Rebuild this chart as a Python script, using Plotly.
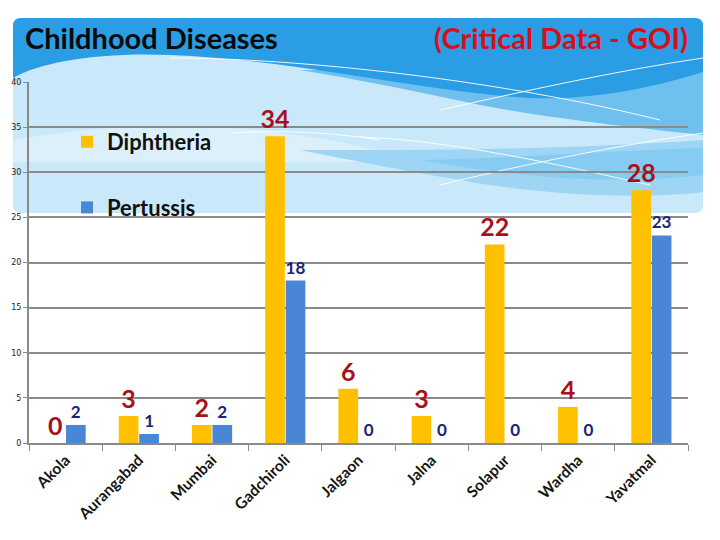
import plotly.graph_objects as go

categories = ["Akola", "Aurangabad", "Mumbai", "Gadchiroli", "Jalgaon",
              "Jalna", "Solapur", "Wardha", "Yavatmal"]
diphtheria = [0, 3, 2, 34, 6, 3, 22, 4, 28]
pertussis = [2, 1, 2, 18, 0, 0, 0, 0, 23]
y_ticks = [0, 5, 10, 15, 20, 25, 30, 35, 40]

# page body margin offsets the figure by 8px; lay out in screen pixels
OFF = 8
SW, SH = 720, 540
L, R, T, B = 29, 688, 82, 443


def px(x):
    return (x - L) / (R - L)


def py(y):
    return (B - y) / (B - T)


def path(points, close=True):
    s = ""
    for cmd, coords in points:
        s += cmd + " " + " ".join(
            f"{px(coords[j]):.4f},{py(coords[j+1]):.4f}" for j in range(0, len(coords), 2)) + " "
    if close:
        s += "Z"
    return s


fig = go.Figure()
fig.add_trace(go.Bar(
    x=categories, y=diphtheria, name="Diphtheria", legendgroup="d",
    marker=dict(color="#ffc000", line=dict(width=0)),
    text=[str(v) for v in diphtheria], textposition="outside", constraintext="none",
    textfont=dict(family="Lato", size=25, color="#a8101a", weight="bold"),
    cliponaxis=False,
))
fig.add_trace(go.Bar(
    x=categories, y=pertussis, name="Pertussis", legendgroup="p",
    marker=dict(color="#4a86d6", line=dict(width=0)),
    text=[str(v) for v in pertussis], textposition="outside", constraintext="none",
    textfont=dict(family="Lato", size=17, color="#1b2478", weight="bold"),
    cliponaxis=False,
))


def fill(pts, color):
    return dict(type="path", xref="paper", yref="paper", layer="below",
                line=dict(width=0), fillcolor=color, path=path(pts))


shapes = []
r = 8
x0, y0, x1, y1 = 13, 18, 703, 213
# panel base
shapes.append(fill([("M", (x0 + r, y0)), ("L", (x1 - r, y0)), ("Q", (x1, y0, x1, y0 + r)),
                    ("L", (x1, y1 - r)), ("Q", (x1, y1, x1 - r, y1)), ("L", (x0 + r, y1)),
                    ("Q", (x0, y1, x0, y1 - r)), ("L", (x0, y0 + r)), ("Q", (x0, y0, x0 + r, y0))],
                   "#c9e8f9"))
# pale band on the left
shapes.append(fill([("M", (13, 140)), ("C", (80, 128, 160, 122, 260, 130)),
                    ("C", (330, 138, 380, 150, 420, 162)), ("L", (13, 162))], "#dcf0fb"))
# lower mid-blue band on the right
shapes.append(fill([("M", (300, 150)), ("C", (420, 150, 560, 150, 703, 140)),
                    ("L", (703, 192)), ("C", (640, 200, 540, 195, 460, 180)),
                    ("C", (400, 170, 340, 158, 300, 150))], "#9fd5f4"))
shapes.append(fill([("M", (420, 160)), ("C", (520, 158, 620, 150, 703, 148)),
                    ("L", (703, 175)), ("C", (620, 185, 520, 178, 420, 160))], "#86cbf2"))
# upper mid-blue wedge
shapes.append(fill([("M", (300, 70)), ("L", (703, 70)), ("L", (703, 135)),
                    ("C", (640, 128, 560, 120, 480, 105)), ("C", (420, 92, 360, 80, 300, 70))],
                   "#6fc0ef"))
# dark blue top
shapes.append(fill([("M", (13 + r, 18)), ("L", (703 - r, 18)), ("Q", (703, 18, 703, 26)),
                    ("L", (703, 72)), ("C", (640, 92, 580, 100, 530, 98)),
                    ("C", (420, 92, 300, 60, 170, 55)), ("C", (100, 52, 40, 62, 13, 78)),
                    ("L", (13, 26)), ("Q", (13, 18, 13 + r, 18))], "#2b9de4"))
# thin white wave lines
for pts in [((170, 58), (300, 58, 500, 80, 660, 120)),
            ((440, 110), (520, 92, 620, 70, 703, 58)),
            ((360, 137), (450, 140, 560, 165, 650, 185)),
            ((440, 185), (520, 165, 620, 145, 703, 133)),
            ((230, 133), (280, 130, 330, 132, 380, 140))]:
    shapes.append(dict(
        type="path", xref="paper", yref="paper", layer="below",
        line=dict(width=1, color="rgba(255,255,255,0.9)"),
        path=path([("M", pts[0]), ("C", pts[1])], close=False)))

annotations = [
    dict(text="Childhood Diseases", xref="paper", yref="paper", x=px(23), y=py(37),
         xanchor="left", yanchor="middle", showarrow=False,
         font=dict(family="Lato", size=29, color="#0a0a0a", weight="bold")),
    dict(text="(Critical Data - GOI)", xref="paper", yref="paper", x=px(690), y=py(37),
         xanchor="right", yanchor="middle", showarrow=False,
         font=dict(family="Lato", size=29, color="#d4101c", weight="bold")),
]

fig.update_layout(
    width=SW - OFF, height=SH - OFF,
    margin=dict(l=L - OFF, r=SW - R, t=T - OFF, b=SH - B, pad=0, autoexpand=False),
    paper_bgcolor="white", plot_bgcolor="rgba(0,0,0,0)",
    barmode="group", bargap=0.44, bargroupgap=0.04,
    shapes=shapes, annotations=annotations,
    showlegend=True,
    legend=dict(x=px(67), y=py(121), xanchor="left", yanchor="top",
                bgcolor="rgba(0,0,0,0)", tracegroupgap=34,
                font=dict(family="Lato", size=22, color="#111111", weight="bold")),
    font=dict(family="Lato"),
)

fig.update_yaxes(range=[0, 40], tickvals=y_ticks, showgrid=True, gridcolor="#8a8a8a",
                 gridwidth=2, showline=True, linecolor="#8a8a8a", linewidth=2,
                 ticks="outside", ticklen=4, tickcolor="#8a8a8a", zeroline=False,
                 automargin=False,
                 tickfont=dict(family="DejaVu Sans", size=8, color="#222222"))
fig.update_xaxes(tickangle=-45, showline=True, linecolor="#8a8a8a", linewidth=2,
                 ticks="outside", ticklen=6, tickcolor="#8a8a8a", tickson="boundaries",
                 automargin=False,
                 tickfont=dict(family="Lato", size=15.5, color="#151515", weight="bold"))

fig.write_html("out.html")
